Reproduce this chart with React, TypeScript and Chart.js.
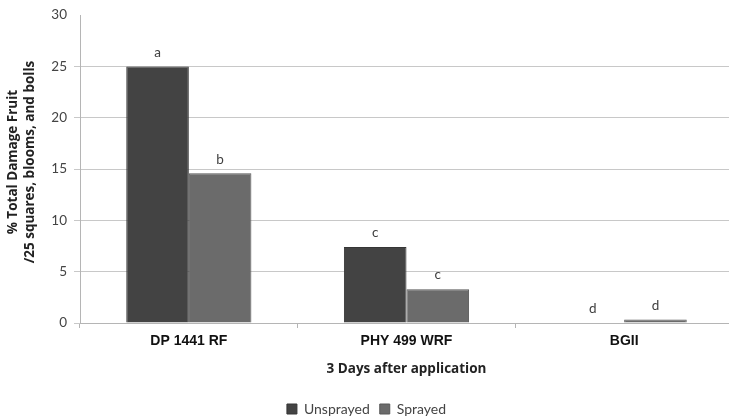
import React, { useEffect, useRef } from "react";
import { Chart, registerables } from "chart.js";

Chart.register(...registerables);

const categories = ["DP 1441 RF", "PHY 499 WRF", "BGII"];
const seriesNames = ["Unsprayed", "Sprayed"];
const unsprayed = [25, 7.4, 0];
const sprayed = [14.6, 3.3, 0.35];
const unsprayedLetters = ["a", "c", "d"];
const sprayedLetters = ["b", "c", "d"];
const yTicks = [0, 5, 10, 15, 20, 25, 30];
const yTitle = ["% Total Damage Fruit", "/25 squares, blooms, and bolls"];
const xTitle = "3 Days after application";

const letterPlugin = {
  id: "letters",
  afterDatasetsDraw(chart: any) {
    const { ctx } = chart;
    const letters = [unsprayedLetters, sprayedLetters];
    ctx.save();
    ctx.font = "13.5px Lato";
    ctx.fillStyle = "#404040";
    ctx.textAlign = "center";
    ctx.textBaseline = "middle";
    chart.data.datasets.forEach((_: any, di: number) => {
      const meta = chart.getDatasetMeta(di);
      meta.data.forEach((el: any, i: number) => {
        ctx.fillText(letters[di][i], el.x, el.y - 14);
      });
    });
    ctx.restore();
  },
};

const yTitlePlugin = {
  id: "yTitle",
  afterDraw(chart: any) {
    const { ctx, chartArea } = chart;
    const cy = (chartArea.top + chartArea.bottom) / 2 - 7;
    ctx.save();
    ctx.font = "bold 13.5px 'Open Sans'";
    ctx.fillStyle = "#222";
    ctx.textAlign = "center";
    ctx.textBaseline = "middle";
    yTitle.forEach((line, i) => {
      ctx.save();
      ctx.translate(13 + i * 17, cy);
      ctx.rotate(-Math.PI / 2);
      ctx.fillText(line, 0, 0);
      ctx.restore();
    });
    ctx.restore();
  },
};

export default function App() {
  const ref = useRef<HTMLCanvasElement>(null);
  useEffect(() => {
    if (!ref.current) return;
    Chart.defaults.font.family = "Lato";
    const chart = new Chart(ref.current, {
      type: "bar",
      data: {
        labels: categories,
        datasets: [
          {
            label: seriesNames[0],
            data: unsprayed,
            backgroundColor: "#434343",
            borderColor: "#363636",
            borderWidth: 1,
          },
          {
            label: seriesNames[1],
            data: sprayed,
            backgroundColor: "#6b6b6b",
            borderColor: "#585858",
            borderWidth: 1,
          },
        ],
      },
      options: {
        animation: false,
        responsive: false,
        layout: { padding: { top: 15, right: 2, left: 0, bottom: -7 } },
        datasets: { bar: { categoryPercentage: 0.575, barPercentage: 1 } },
        plugins: {
          legend: {
            position: "bottom",
            labels: {
              boxWidth: 10,
              boxHeight: 10,
              padding: 10,
              color: "#444",
              font: { size: 14, family: "Lato" },
            },
          },
          tooltip: { enabled: false },
        },
        scales: {
          x: {
            afterFit: (s: any) => {
              s.height = 69;
            },
            grid: {
              offset: true,
              drawOnChartArea: false,
              tickLength: 5,
              color: "#b5b5b5",
            },
            border: { color: "#b5b5b5" },
            ticks: {
              padding: 5,
              color: "#111",
              font: { size: 14, weight: "bold", family: "'Liberation Sans', Arial" },
            },
            title: {
              display: true,
              text: xTitle,
              color: "#222",
              font: { size: 13.5, weight: "bold", family: "'Open Sans'" },
              padding: { top: 0, bottom: 15 },
            },
          },
          y: {
            min: 0,
            max: 30,
            afterFit: (s: any) => {
              s.width = 80;
            },
            afterBuildTicks: (s: any) => {
              s.ticks = yTicks.map((v) => ({ value: v }));
            },
            grid: {
              color: (c: any) => (c.tick && c.tick.value === 30 ? "rgba(0,0,0,0)" : "#c8c8c8"),
              tickLength: 6,
            },
            border: { color: "#b5b5b5" },
            ticks: {
              padding: 7,
              color: "#444",
              font: { size: 13.5, family: "Lato" },
            },
          },
        },
      },
      plugins: [letterPlugin, yTitlePlugin],
    });
    return () => chart.destroy();
  }, []);
  return (
    <div
      style={{
        position: "fixed",
        left: 0,
        top: 0,
        width: 729,
        height: 419,
        overflow: "hidden",
        background: "#fff",
      }}
    >
      <canvas ref={ref} width={735} height={419} style={{ display: "block" }} />
    </div>
  );
}
